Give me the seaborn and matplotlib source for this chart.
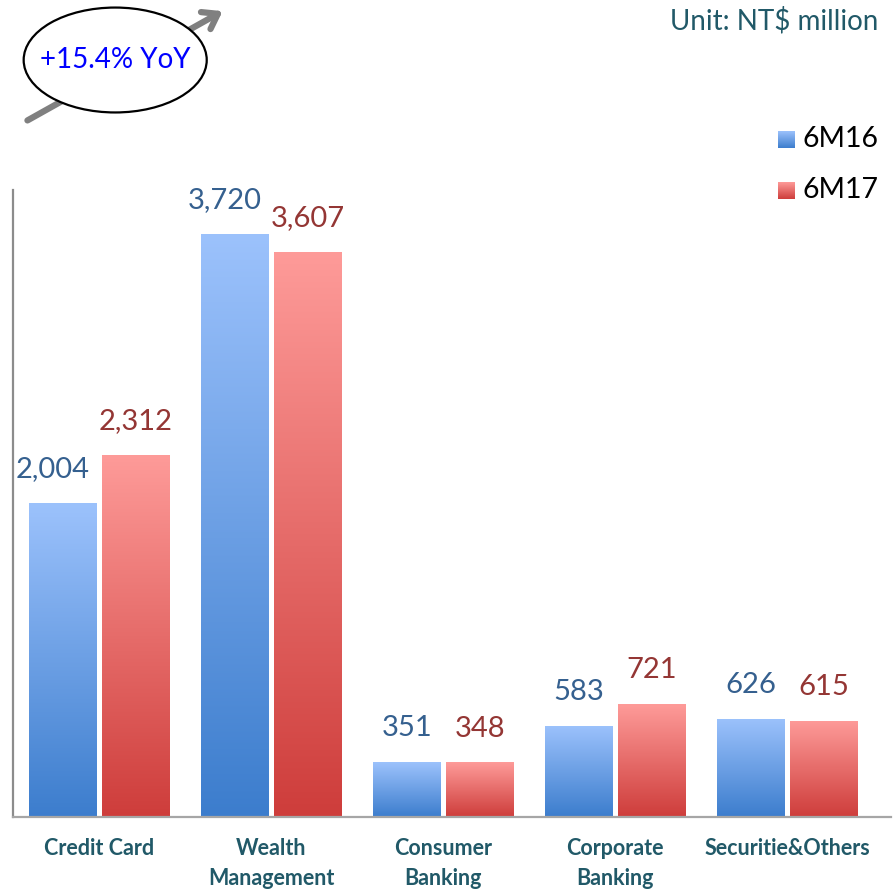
import numpy as np
import pandas as pd
import seaborn as sns
import matplotlib.pyplot as plt
from matplotlib.colors import LinearSegmentedColormap
from matplotlib.patches import Ellipse, FancyArrowPatch

# Segment income, 6M16 vs 6M17 (NT$ million)
categories = ["Credit Card", "Wealth\nManagement", "Consumer\nBanking", "Corporate\nBanking", "Securitie&Others"]
series = ["6M16", "6M17"]
values_6m16 = [2004, 3720, 351, 583, 626]
values_6m17 = [2312, 3607, 348, 721, 615]

# top (light) / bottom (dark) colours of each gradient
grad_colors = {"6M16": ("#9cc2fc", "#3c7dcd"), "6M17": ("#fe9b99", "#ce3d3b")}
label_colors = {"6M16": "#35608f", "6M17": "#943634"}

sns.set_theme(style="white")
plt.rcParams['font.family'] = ['Lato', 'DejaVu Sans']

df = pd.DataFrame({
    "Segment": categories * 2,
    "Series": [series[0]] * len(categories) + [series[1]] * len(categories),
    "Value": values_6m16 + values_6m17,
})

fig = plt.figure(figsize=(8.93, 8.89), dpi=100)
ax = fig.add_axes([0.0145, 0.081, 0.983, 0.705])

sns.barplot(data=df, x="Segment", y="Value", hue="Series", hue_order=series,
            palette=[grad_colors[s][0] for s in series], width=0.85, gap=0.08,
            legend=False, ax=ax)

ramp = np.linspace(0, 1, 256).reshape(-1, 1)
for s, cont in zip(series, ax.containers):
    cmap = LinearSegmentedColormap.from_list(s, [grad_colors[s][1], grad_colors[s][0]])
    for bar in cont:
        x0, w, h = bar.get_x(), bar.get_width(), bar.get_height()
        bar.set_facecolor("none")
        bar.set_edgecolor("none")
        im = ax.imshow(ramp, cmap=cmap, origin="lower", aspect="auto",
                       extent=[x0, x0 + w, 0, h], interpolation="bicubic", zorder=2)
        im.set_clip_path(bar)
        # the wide blue labels sit a little to the left so they clear the red ones
        dx = -7 if (s == series[0] and h >= 1000) else 0
        ax.annotate(f"{int(h):,}", (x0 + w / 2, h), xytext=(dx, 15),
                    textcoords="offset points", ha="center", va="bottom",
                    color=label_colors[s], fontsize=21)

ax.set_xlim(-0.5, 4.6)
ax.set_ylim(0, 4000)
ax.set_xlabel("")
ax.set_ylabel("")
ax.set_yticks([])
ax.tick_params(axis="x", length=0, pad=15)
for lab in ax.get_xticklabels():
    lab.set_fontweight("bold")
    lab.set_color("#215968")
    lab.set_fontsize(15.5)
    lab.set_linespacing(1.55)

sns.despine(ax=ax, top=True, right=True)
ax.spines["left"].set_color("#8c8c8c")
ax.spines["left"].set_linewidth(1.6)
ax.spines["bottom"].set_color("#a6a6a6")
ax.spines["bottom"].set_linewidth(1.6)

# unit note
fig.text(0.984, 0.977, "Unit: NT$ million", ha="right", va="center",
         fontsize=20, color="#215968")

# legend with gradient squares
for s, ypos in zip(series, [0.8435, 0.786]):
    sq = fig.add_axes([0.871, ypos - 0.0095, 0.019, 0.019])
    cmap = LinearSegmentedColormap.from_list(s + "_leg", [grad_colors[s][1], grad_colors[s][0]])
    sq.imshow(ramp, cmap=cmap, origin="lower", aspect="auto", interpolation="bicubic")
    sq.set_axis_off()
    fig.text(0.899, ypos, s, ha="left", va="center", fontsize=20.5, color="black")

# YoY growth callout
arrow = FancyArrowPatch((0.028, 0.863), (0.252, 0.989), transform=fig.transFigure,
                        arrowstyle="->,head_length=10,head_width=7", color="#808080",
                        lw=4.5, mutation_scale=1)
fig.patches.append(arrow)
ell = Ellipse((0.129, 0.9325), 0.205, 0.118, transform=fig.transFigure,
              facecolor="white", edgecolor="black", lw=1.6, zorder=3)
fig.patches.append(ell)
fig.text(0.129, 0.932, "+15.4% YoY", ha="center", va="center", fontsize=20,
         color="#0000ff", zorder=4)

fig.savefig("out.png", dpi=100)
